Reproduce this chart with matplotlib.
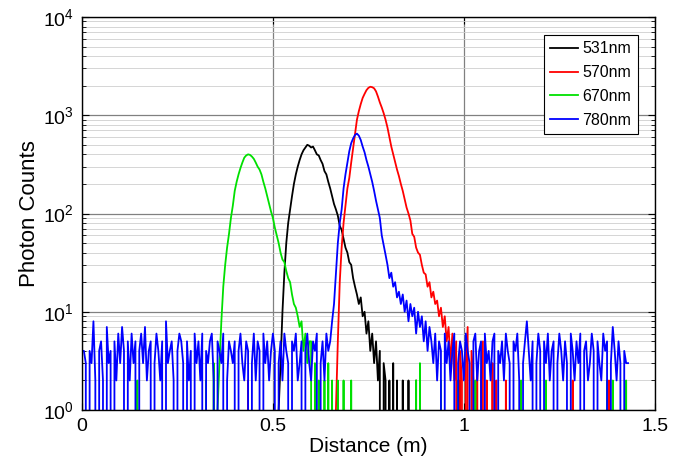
import numpy as np
import matplotlib
matplotlib.use("Agg")
import matplotlib.pyplot as plt

plt.rcParams['font.family'] = ['Liberation Sans', 'DejaVu Sans']

# histogram bins, 5 mm wide, 0 .. 1.43 m
bin_width = 0.005
n_bins = 287

labels = ['531nm', '570nm', '670nm', '780nm']
colors = ['black', 'red', '#00e000', 'blue']

counts_531 = (
    [0] * 100 +
    [0, 0, 0, 1, 3, 10, 25, 50, 80, 110, 150, 200, 250, 300, 350, 400, 440, 470, 500, 490] +
    [470, 480, 440, 400, 390, 350, 320, 270, 250, 210, 180, 150, 125, 110, 95, 75, 68, 55, 45, 40] +
    [32, 30, 22, 18, 15, 12, 14, 9, 10, 6, 8, 4, 6, 3, 5, 2, 4, 0, 3, 2] +
    [0, 2, 0, 3, 0, 2, 0, 0, 2, 0, 0, 2, 0, 0, 0, 2, 0, 0, 0, 0] +
    [0, 0, 0, 0, 0, 0, 0, 0, 0, 0, 0, 0, 0, 0, 0, 0, 0, 0, 2, 0] +
    [0] * 87
)

counts_570 = (
    [0] * 80 +
    [0, 0, 0, 0, 0, 0, 0, 2, 0, 0, 0, 0, 0, 0, 0, 0, 0, 0, 0, 0] +
    [0] * 20 +
    [0, 0, 0, 0, 0, 0, 0, 0, 0, 0, 0, 0, 0, 1, 5, 20, 45, 80, 120, 180] +
    [230, 330, 460, 650, 900, 1100, 1300, 1500, 1650, 1800, 1900, 1950, 1930, 1880, 1750, 1550, 1350, 1200, 1050, 900] +
    [750, 600, 480, 400, 330, 280, 240, 200, 170, 140, 115, 100, 85, 62, 58, 45, 40, 38, 30, 25] +
    [24, 18, 20, 14, 16, 12, 13, 9, 11, 7, 9, 5, 7, 3, 6, 2, 5, 0, 4, 2] +
    [0, 3, 7, 0, 4, 2, 0, 3, 0, 2, 5, 0, 2, 0, 0, 3, 0, 2, 0, 0] +
    [0, 0, 2, 0, 0, 0, 0, 0, 0, 0, 0, 0, 0, 0, 0, 0, 0, 0, 0, 0] +
    [0, 0, 0, 0, 0, 0, 0, 0, 0, 0, 0, 0, 0, 0, 0, 0, 0, 2, 0, 0] +
    [0, 0, 0, 0, 0, 0, 0, 0, 0, 0, 0, 0, 0, 0, 0, 0, 2, 0, 0, 0] +
    [0] * 7
)

counts_670 = (
    [0] * 20 +
    [0, 0, 0, 0, 0, 0, 0, 0, 0, 2, 0, 0, 0, 0, 0, 0, 0, 0, 0, 0] +
    [0] * 20 +
    [0, 0, 0, 0, 0, 2, 0, 0, 0, 3, 0, 1, 3, 8, 18, 30, 45, 62, 90, 120] +
    [170, 210, 250, 290, 330, 370, 390, 400, 395, 380, 360, 330, 300, 280, 250, 210, 180, 150, 125, 105] +
    [90, 72, 60, 50, 40, 34, 32, 26, 22, 20, 15, 12, 11, 9, 7, 8, 4, 6, 3, 5] +
    [5, 0, 3, 0, 2, 0, 0, 2, 0, 3, 0, 2, 0, 0, 2, 0, 0, 2, 0, 0] +
    [0, 2, 0, 0, 0, 0, 0, 0, 0, 0, 0, 0, 0, 0, 0, 0, 0, 0, 0, 0] +
    [0, 0, 0, 0, 0, 0, 0, 0, 0, 0, 0, 0, 0, 0, 0, 2, 0, 3, 0, 0] +
    [0, 0, 0, 0, 0, 0, 0, 0, 2, 0, 0, 0, 0, 0, 0, 0, 0, 2, 0, 0] +
    [0, 0, 0, 0, 0, 0, 2, 0, 0, 0, 0, 0, 0, 0, 0, 0, 0, 0, 0, 0] +
    [0, 0, 0, 0, 0, 0, 0, 0, 0, 0, 2, 0, 0, 0, 0, 0, 0, 0, 0, 0] +
    [0, 0, 0, 2, 0, 0, 0, 0, 0, 0, 0, 0, 0, 0, 0, 0, 0, 0, 0, 0] +
    [0, 0, 0, 0, 0, 0, 0, 0, 0, 0, 0, 0, 0, 0, 0, 2, 0, 0, 2, 0] +
    [0, 0, 0, 0, 0, 2, 0]
)

counts_780 = (
    [4, 4, 3, 0, 4, 3, 8, 2, 0, 4, 5, 2, 0, 7, 3, 4, 0, 5, 2, 6] +
    [3, 7, 4, 0, 5, 2, 6, 3, 5, 0, 4, 6, 3, 7, 2, 4, 5, 0, 3, 6] +
    [4, 2, 5, 0, 8, 3, 4, 5, 2, 0, 4, 6, 5, 3, 0, 5, 2, 4, 0, 6] +
    [3, 5, 2, 6, 0, 4, 3, 5, 6, 2, 0, 5, 4, 3, 6, 0, 2, 5, 4, 3] +
    [5, 0, 4, 6, 3, 2, 5, 4, 0, 3, 6, 2, 5, 4, 0, 6, 3, 5, 2, 4] +
    [6, 4, 0, 3, 5, 2, 6, 4, 3, 0, 5, 4, 6, 2, 3, 5, 0, 4, 6, 3] +
    [2, 5, 4, 6, 0, 3, 5, 2, 6, 4, 5, 8, 12, 25, 50, 80, 110, 180, 250, 330] +
    [430, 520, 580, 630, 650, 620, 560, 480, 420, 350, 300, 250, 210, 170, 135, 110, 90, 60, 48, 38] +
    [30, 22, 25, 18, 20, 14, 16, 12, 15, 10, 13, 8, 12, 9, 11, 6, 10, 7, 9, 5] +
    [8, 4, 7, 5, 3, 6, 2, 5, 4, 0, 6, 3, 5, 2, 4, 6, 0, 3, 5, 4] +
    [2, 6, 4, 3, 0, 5, 6, 2, 4, 5, 0, 6, 3, 4, 2, 5, 6, 0, 4, 3] +
    [5, 2, 6, 4, 3, 0, 5, 4, 6, 2, 0, 3, 5, 8, 4, 2, 5, 0, 3, 6] +
    [4, 0, 5, 3, 6, 2, 4, 5, 0, 3, 6, 4, 2, 5, 3, 0, 6, 4, 2, 5] +
    [3, 6, 0, 4, 5, 2, 3, 6, 4, 0, 5, 3, 2, 6, 4, 5, 0, 3, 7, 4] +
    [2, 5, 3, 0, 4, 3, 3]
)

distance = np.arange(n_bins) * bin_width

fig = plt.figure(figsize=(6.86, 4.67), dpi=100)
ax = fig.add_axes([0.1195, 0.122, 0.835, 0.8416])

for counts, label, color in zip([counts_531, counts_570, counts_670, counts_780], labels, colors):
    ax.plot(distance, counts, color=color, lw=1.3, label=label)

ax.set_yscale('log', nonpositive='clip')
ax.set_ylim(1, 1e4)
ax.set_xlim(0, 1.5)
ax.set_xticks([0, 0.5, 1, 1.5])
ax.set_xticklabels(['0', '0.5', '1', '1.5'])

ax.grid(which='major', color='#808080', lw=0.9)
ax.grid(which='minor', axis='y', color='#cfcfcf', lw=0.6)
ax.set_axisbelow(True)

ax.tick_params(which='both', direction='in', top=True, right=True, labelsize=14)
ax.tick_params(which='major', length=5, pad=6)
ax.tick_params(which='minor', length=3)
for spine in ax.spines.values():
    spine.set_linewidth(1.0)

ax.set_xlabel('Distance (m)', fontsize=15, labelpad=1)
ax.set_ylabel('Photon Counts', fontsize=16, labelpad=2)

leg = ax.legend(loc='upper right', fontsize=11.5, fancybox=False, edgecolor='black',
                framealpha=1, handlelength=1.7, handletextpad=0.3, labelspacing=0.55,
                bbox_to_anchor=(0.970, 0.954), borderaxespad=0)
leg.get_frame().set_linewidth(0.8)

fig.savefig('out.png', dpi=100)
